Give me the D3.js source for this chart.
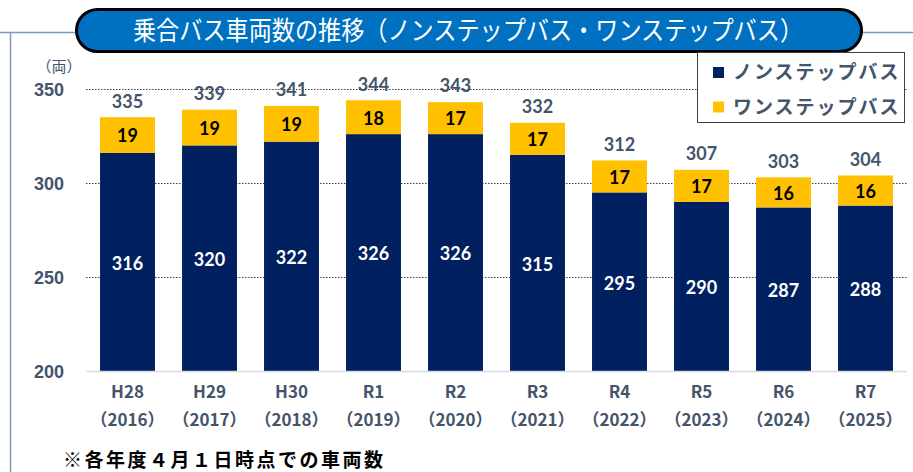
<!DOCTYPE html>
<html><head><meta charset="utf-8">
<script src="https://cdn.jsdelivr.net/npm/d3@7"></script>
<style>html,body{margin:0;padding:0;background:#fff;}svg{display:block;}</style>
</head><body>
<script>
const categories = ["H28","H29","H30","R1","R2","R3","R4","R5","R6","R7"];
const years = ["（2016）","（2017）","（2018）","（2019）","（2020）","（2021）","（2022）","（2023）","（2024）","（2025）"];
const nonStep = [316,320,322,326,326,315,295,290,287,288];
const oneStep = [19,19,19,18,17,17,17,17,16,16];
const totals = [335,339,341,344,343,332,312,307,303,304];
const yTicks = [200,250,300,350];
const seriesNames = ["ノンステップバス","ワンステップバス"];
const colors = ["#002060","#FFC000"];
const title = "乗合バス車両数の推移（ノンステップバス・ワンステップバス）";
const unitLabel = "（両）";
const footnote = "※各年度４月１日時点での車両数";

const W = 913, H = 472;
const svg = d3.select("body").append("svg").attr("width", W).attr("height", H);
const slate = "#44546A";

// frame
svg.append("path").attr("d", `M0,32.5 H913 M10.5,32.5 V472`).attr("fill","none").attr("stroke","#7A98C2").attr("stroke-width",1.5);

const x = d3.scaleBand().domain(categories).range([86.5, 906.5]).paddingInner(0.33).paddingOuter(0.165);
const y = d3.scaleLinear().domain([200, 350]).range([371, 89]);

// gridlines
svg.append("g").selectAll("line").data(yTicks.filter(t => t > 200)).join("line")
  .attr("x1", 86).attr("x2", 907).attr("y1", d => Math.round(y(d)) + 0.5).attr("y2", d => Math.round(y(d)) + 0.5)
  .attr("stroke", "#404040").attr("stroke-width", 1).attr("stroke-dasharray", "1.5,1.5");

// y axis labels
const yAxis = d3.axisLeft(y).tickValues(yTicks).tickSize(0).tickPadding(0);
const ya = svg.append("g").attr("transform", "translate(64,0)").call(yAxis);
ya.select(".domain").remove();
ya.selectAll("text").attr("font-family", "'Liberation Sans', Arial, sans-serif").attr("font-weight", "bold")
  .attr("font-size", 18).attr("fill", slate).attr("dy", "0.35em");
svg.append("text").attr("x", 59).attr("y", 67).attr("text-anchor", "middle").attr("dy","0.35em")
  .attr("font-family", "'Noto Sans CJK JP', sans-serif").attr("font-size", 15).attr("fill", slate).text(unitLabel);

// bars
const stack = categories.map((c, i) => ({c, n: nonStep[i], o: oneStep[i], t: totals[i]}));
const g = svg.append("g");
g.selectAll("rect.n").data(stack).join("rect").attr("class","n")
  .attr("x", d => x(d.c)).attr("width", x.bandwidth())
  .attr("y", d => y(d.n)).attr("height", d => y(200) - y(d.n)).attr("fill", colors[0]);
g.selectAll("rect.o").data(stack).join("rect").attr("class","o")
  .attr("x", d => x(d.c)).attr("width", x.bandwidth())
  .attr("y", d => y(d.n + d.o)).attr("height", d => y(d.n) - y(d.n + d.o)).attr("fill", colors[1]);

// baseline
svg.append("line").attr("x1", 86).attr("x2", 907).attr("y1", 371.5).attr("y2", 371.5).attr("stroke", "#D6DCE5").attr("stroke-width", 1.5);

const numFont = "Lato, 'Open Sans', sans-serif";
g.selectAll("text.n").data(stack).join("text").attr("class","n")
  .attr("x", d => x(d.c) + x.bandwidth()/2).attr("y", d => (y(d.n) + y(200))/2 + 1.5).attr("dy","0.35em")
  .attr("text-anchor","middle").attr("font-family", numFont).attr("font-weight","bold").attr("font-size",18)
  .attr("fill","#fff").text(d => d.n);
g.selectAll("text.o").data(stack).join("text").attr("class","o")
  .attr("x", d => x(d.c) + x.bandwidth()/2).attr("y", d => (y(d.n) + y(d.n + d.o))/2 + 1).attr("dy","0.35em")
  .attr("text-anchor","middle").attr("font-family", numFont).attr("font-weight","bold").attr("font-size",18)
  .attr("fill","#000").text(d => d.o);
g.selectAll("text.t").data(stack).join("text").attr("class","t")
  .attr("x", d => x(d.c) + x.bandwidth()/2).attr("y", d => y(d.t) - 16).attr("dy","0.35em")
  .attr("text-anchor","middle").attr("font-family", numFont).attr("font-weight","bold").attr("font-size",18)
  .attr("fill", slate).text(d => d.t);

// x axis labels
const xa = svg.append("g");
const jp = "'Noto Sans CJK JP', sans-serif";
xa.selectAll("text.c").data(categories).join("text").attr("class","c")
  .attr("x", d => x(d) + x.bandwidth()/2).attr("y", 392).attr("dy","0.35em").attr("text-anchor","middle")
  .attr("font-family", jp).attr("font-weight","bold").attr("font-size",17).attr("fill", slate).text(d => d);
xa.selectAll("text.yr").data(categories).join("text").attr("class","yr")
  .attr("x", d => x(d) + x.bandwidth()/2).attr("y", 420).attr("dy","0.35em").attr("text-anchor","middle")
  .attr("font-family", jp).attr("font-weight","bold").attr("font-size",17).attr("fill", slate)
  .text((d, i) => years[i]);

// title pill
svg.append("rect").attr("x", 76.5).attr("y", 9.5).attr("width", 785).attr("height", 42).attr("rx", 21).attr("ry", 21)
  .attr("fill", "#0070C0").attr("stroke", "#000").attr("stroke-width", 3);
svg.append("g").attr("transform", "translate(468,31) scale(0.89,1)")
  .append("text").attr("x", 0).attr("y", 0).attr("dy","0.35em").attr("text-anchor","middle")
  .attr("font-family", jp).attr("font-size", 26).attr("fill", "#fff").text(title);

// legend
svg.append("rect").attr("x", 697.5).attr("y", 52.5).attr("width", 207).attr("height", 70)
  .attr("fill", "#fff").attr("stroke", "#404040").attr("stroke-width", 1);
const lg = svg.append("g");
seriesNames.forEach((s, i) => {
  const cy = 72.5 + i * 34.5;
  lg.append("rect").attr("x", 713).attr("y", cy - 5.5).attr("width", 11).attr("height", 11).attr("fill", colors[i]);
  lg.append("text").attr("x", 733).attr("y", cy).attr("dy","0.35em")
    .attr("font-family", jp).attr("font-weight","bold").attr("font-size",19).attr("fill", slate)
    .attr("letter-spacing", 2).text(s);
});

// footnote
svg.append("text").attr("x", 63).attr("y", 460).attr("dy","0.35em")
  .attr("font-family", jp).attr("font-weight","bold").attr("font-size",19).attr("fill","#000")
  .attr("letter-spacing", 2.5).text(footnote);
</script>
</body></html>
